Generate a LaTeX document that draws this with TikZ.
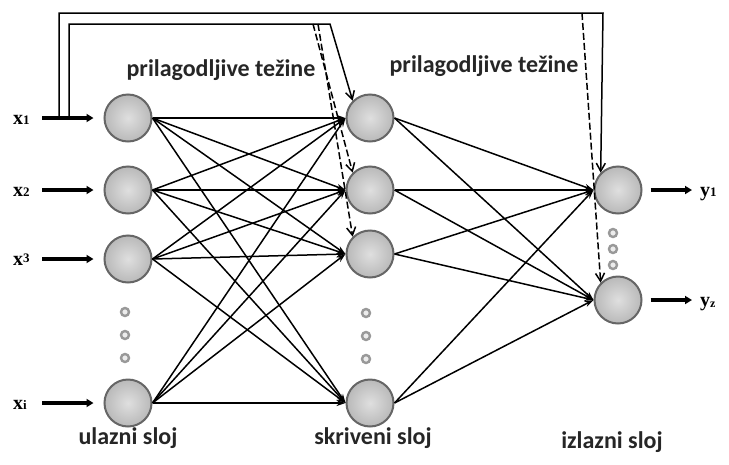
\documentclass[tikz,border=0pt]{standalone}
\usepackage{fontspec}
\setmainfont{Carlito}
\newfontfamily\serifx{Liberation Serif}
\usetikzlibrary{arrows.meta}
\begin{document}
\begin{tikzpicture}[x=1pt,y=-1pt,
  neuron/.style={circle, minimum size=47pt, inner sep=0pt, draw=gray!80!black, line width=2pt, shading=radial, inner color=gray!25, outer color=gray!55},
  conn/.style={line width=1.5pt, -{Stealth[length=9pt,width=6pt]}},
  fb/.style={line width=1.5pt, -{Straight Barb[length=8pt,width=9pt]}},
  fbd/.style={line width=1.5pt, dash pattern=on 7pt off 3pt, -{Straight Barb[length=8pt,width=9pt]}},
  io/.style={line width=3.5pt, -{Triangle[length=7pt,width=8pt]}},
  vdot/.style={circle, minimum size=8pt, inner sep=0pt, draw=gray!80, line width=2.4pt, fill=gray!15},
  lbl/.style={font=\fontsize{24}{28}\selectfont\bfseries, text=black!85},
  var/.style={font=\serifx\bfseries\fontsize{20}{20}\selectfont, anchor=base west, inner sep=0pt}
]
\useasboundingbox (0,0) rectangle (729,464);
% input layer
\node[neuron] (i1) at (128,118) {};
\node[neuron] (i2) at (128,190) {};
\node[neuron] (i3) at (128,259) {};
\node[neuron] (i4) at (128,403) {};
% hidden layer
\node[neuron] (h1) at (370,118) {};
\node[neuron] (h2) at (370,190) {};
\node[neuron] (h3) at (370,254) {};
\node[neuron] (h4) at (370,403) {};
% output layer
\node[neuron] (o1) at (618,190) {};
\node[neuron] (o2) at (618,300) {};
% dots
\foreach \y [count=\k] in {312,335,358}{
  \node[vdot] (di\k) at (125,\y) {};
  \node[vdot] (dh\k) at (366,\y+1) {};
}
\foreach \y [count=\k] in {233,249,265}{
  \node[vdot] (do\k) at (613,\y) {};
}
% connections
\foreach \a in {1,2,3,4}{
  \foreach \b in {1,2,3,4}{
    \draw[conn] (i\a.east) -- (h\b.west);
  }
  \foreach \c in {1,2}{
    \draw[conn] (h\a.east) -- (o\c.west);
  }
}
% input arrows and labels
\coordinate (s1) at (42,118);
\coordinate (s2) at (42,190);
\coordinate (s3) at (42,259);
\coordinate (s4) at (42,403);
\foreach \k in {1,2,3,4}{
  \draw[io] (s\k) -- ([xshift=-10pt]i\k.west);
}
\node[var] (lx1) at (13,124) {x{\fontsize{13}{13}\selectfont 1}};
\node[var] (lx2) at (13,196) {x{\fontsize{13}{13}\selectfont 2}};
\node[var] (lx3) at (13,265) {x{\fontsize{13}{13}\selectfont\raisebox{3pt}{3}}};
\node[var] (lx4) at (13,409) {x{\fontsize{13}{13}\selectfont i}};
% output arrows
\coordinate (t1) at (692,190);
\coordinate (t2) at (692,300);
\draw[io] ([xshift=8pt]o1.east) -- (t1);
\draw[io] ([xshift=8pt]o2.east) -- (t2);
\node[var] (ly1) at (700,196) {y{\fontsize{13}{13}\selectfont 1}};
\node[var] (ly2) at (700,306) {y{\fontsize{12}{12}\selectfont\raisebox{-1pt}{z}}};
% feedback lines
\coordinate (fa) at (59,118);
\coordinate (fb1) at (59,13);
\coordinate (fb2) at (603,13);
\coordinate (fc) at (69,118);
\coordinate (fd1) at (69,24);
\coordinate (fd2) at (330,24);
\coordinate (fe) at (313,24);
\coordinate (ff) at (318,24);
\coordinate (fg) at (582,13);
\draw[fb] (fa) -- (fb1) -- (fb2) -- (o1.135);
\draw[fb] (fc) -- (fd1) -- (fd2) -- (h1.135);
\draw[fbd] (fe) -- (h2.135);
\draw[fbd] (ff) -- (h3.135);
\draw[fbd] (fg) -- (o2.135);
% labels
\node[lbl] (w1) at (221,70) {prilagodljive težine};
\node[lbl] (w2) at (484,66) {prilagodljive težine};
\node[lbl] (n1) at (128,438) {ulazni sloj};
\node[lbl] (n2) at (373,438) {skriveni sloj};
\node[lbl] (n3) at (612,442) {izlazni sloj};
\end{tikzpicture}
\end{document}
